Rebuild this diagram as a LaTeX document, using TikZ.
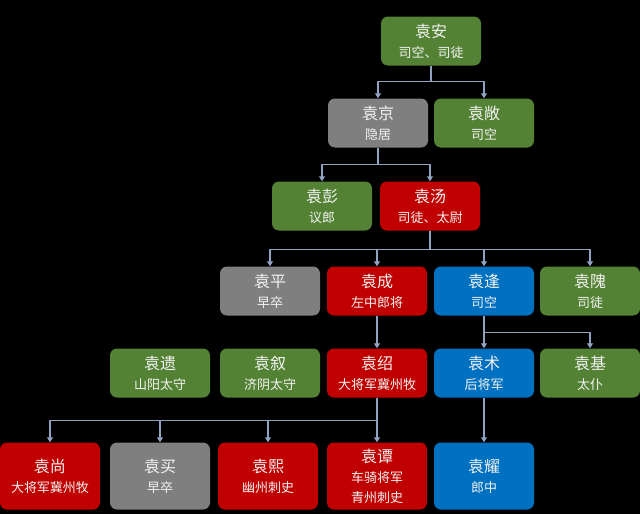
\documentclass[tikz,border=0pt]{standalone}
\usepackage{fontspec}
\usepackage{xcolor}
\usepackage{tikz}
\usetikzlibrary{arrows.meta}
\newfontfamily\cjk{Noto Sans CJK SC}

\definecolor{boxgreen}{HTML}{548235}
\definecolor{boxgray}{HTML}{7F7F7F}
\definecolor{boxred}{HTML}{C00000}
\definecolor{boxblue}{HTML}{0070C0}
\definecolor{linkcol}{HTML}{8FA2C2}
\definecolor{textcol}{HTML}{F2F2F2}

\begin{document}
\begin{tikzpicture}[x=1pt, y=-1pt,
    every node/.style={rounded corners=7pt, minimum width=100pt, minimum height=49pt,
        inner sep=0pt, align=center, text=textcol, font=\cjk\fontsize{16}{20}\selectfont},
    green/.style={fill=boxgreen}, gray/.style={fill=boxgray},
    red/.style={fill=boxred}, blue/.style={fill=boxblue},
    tall/.style={minimum height=67pt},
    link/.style={draw=linkcol, line width=1.1pt, -{Triangle[width=6pt,length=5pt]}}]
    \fill[black] (0,0) rectangle (640,514);
    \useasboundingbox (0,0) rectangle (640,514);
    \newcommand{\sub}[1]{{\fontsize{13}{16}\selectfont #1}}

    \node[green] (an) at (431,41) {袁安\\\sub{司空、司徒}};
    \node[gray] (jing) at (378,123) {袁京\\\sub{隐居}};
    \node[green] (chang) at (484,123) {袁敞\\\sub{司空}};
    \node[green] (peng) at (322,206) {袁彭\\\sub{议郎}};
    \node[red] (tang) at (430,206) {袁汤\\\sub{司徒、太尉}};

    \node[gray] (ping) at (270,291) {袁平\\\sub{早卒}};
    \node[red] (cheng) at (377,291) {袁成\\\sub{左中郎将}};
    \node[blue] (feng) at (484,291) {袁逢\\\sub{司空}};
    \node[green] (wei) at (590,291) {袁隗\\\sub{司徒}};

    \node[green] (yi) at (160,373) {袁遗\\\sub{山阳太守}};
    \node[green] (xu) at (270,373) {袁叙\\\sub{济阴太守}};
    \node[red] (shao) at (377,373) {袁绍\\\sub{大将军冀州牧}};
    \node[blue] (shu) at (484,373) {袁术\\\sub{后将军}};
    \node[green] (ji) at (590,373) {袁基\\\sub{太仆}};

    \node[red, tall] (shang) at (50,476) {袁尚\\\sub{大将军冀州牧}};
    \node[gray, tall] (mai) at (160,476) {袁买\\\sub{早卒}};
    \node[red, tall] (xi) at (268,476) {袁熙\\\sub{幽州刺史}};
    \node[red, tall] (tan) at (377,476) {袁谭\\\sub{车骑将军}\\\sub{青州刺史}};
    \node[blue, tall] (yao) at (484,476) {袁耀\\\sub{郎中}};

    \draw[link] (an.south) -- ++(0,16) -| (jing.north);
    \draw[link] (an.south) -- ++(0,16) -| (chang.north);
    \draw[link] (jing.south) -- ++(0,17) -| (peng.north);
    \draw[link] (jing.south) -- ++(0,17) -| (tang.north);
    \draw[link] (tang.south) -- ++(0,19) -| (ping.north);
    \draw[link] (tang.south) -- ++(0,19) -| (cheng.north);
    \draw[link] (tang.south) -- ++(0,19) -| (feng.north);
    \draw[link] (tang.south) -- ++(0,19) -| (wei.north);
    \draw[link] (cheng.south) -- (shao.north);
    \draw[link] (feng.south) -- ++(0,17) -| (shu.north);
    \draw[link] (feng.south) -- ++(0,17) -| (ji.north);
    \draw[link] (shao.south) -- ++(0,23) -| (shang.north);
    \draw[link] (shao.south) -- ++(0,23) -| (mai.north);
    \draw[link] (shao.south) -- ++(0,23) -| (xi.north);
    \draw[link] (shao.south) -- ++(0,23) -| (tan.north);
    \draw[link] (shu.south) -- (yao.north);
\end{tikzpicture}
\end{document}
